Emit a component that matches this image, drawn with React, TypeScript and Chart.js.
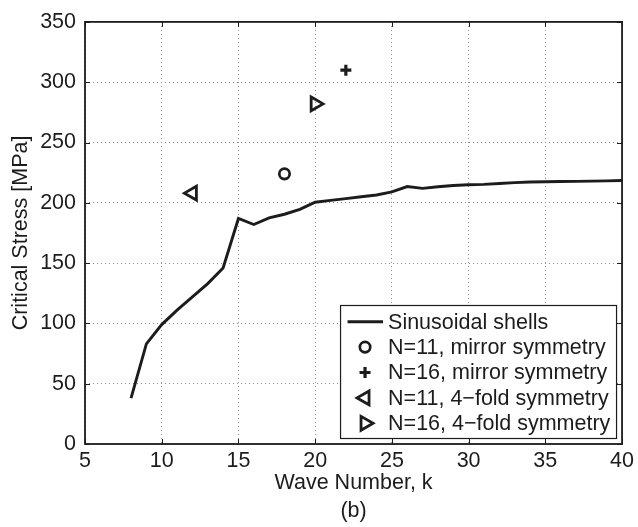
import { useEffect, useRef } from "react";
import { Chart, registerables } from "chart.js";

Chart.register(...registerables);

// ---- data ----
const waveNumbers = [8, 9, 10, 11, 12, 13, 14, 15, 16, 17, 18, 19, 20, 21, 22, 23, 24, 25, 26, 27, 28, 29, 30, 31, 32, 33, 34, 35, 36, 37, 38, 39, 40];
const sinusoidalStress = [38, 83, 99, 111, 122, 133, 146, 187, 182, 187.5, 190.5, 194.5, 200.5, 202, 203.5, 205, 206.5, 209, 213.5, 212, 213.3, 214.3, 215, 215.3, 216, 216.7, 217.2, 217.5, 217.7, 217.8, 218, 218.2, 218.5];

const n11MirrorK = [18];
const n11MirrorStress = [224];
const n16MirrorK = [22];
const n16MirrorStress = [310];
const n11FourFoldK = [12];
const n11FourFoldStress = [208];
const n16FourFoldK = [20];
const n16FourFoldStress = [282];

const xTickMin = 5;
const xTickMax = 40;
const xTickStep = 5;
const yTickMin = 0;
const yTickMax = 350;
const yTickStep = 50;

const seriesLabels = [
  "Sinusoidal shells",
  "N=11, mirror symmetry",
  "N=16, mirror symmetry",
  "N=11, 4\u2212fold symmetry",
  "N=16, 4\u2212fold symmetry",
];

const xTitle = ["Wave Number, k", "(b)"];
const yTitle = "Critical Stress [MPa]";

// ---- styles ----
const INK = "#1c1c1c";
const FONT_FAMILY = "'Liberation Sans', Arial, Helvetica, sans-serif";
const FONT_SIZE = 21.5;

const toPoints = (xs: number[], ys: number[]) => xs.map((x, i) => ({ x, y: ys[i] }));

function drawMarker(ctx: CanvasRenderingContext2D, style: string, x: number, y: number, r: number, rot: number) {
  ctx.beginPath();
  if (style === "circle") {
    ctx.arc(x, y, r, 0, Math.PI * 2);
  } else if (style === "cross") {
    ctx.moveTo(x - r, y);
    ctx.lineTo(x + r, y);
    ctx.moveTo(x, y - r);
    ctx.lineTo(x, y + r);
  } else if (style === "triangle") {
    let rad = (rot * Math.PI) / 180;
    ctx.moveTo(x + Math.sin(rad) * r, y - Math.cos(rad) * r);
    rad += (2 * Math.PI) / 3;
    ctx.lineTo(x + Math.sin(rad) * r, y - Math.cos(rad) * r);
    rad += (2 * Math.PI) / 3;
    ctx.lineTo(x + Math.sin(rad) * r, y - Math.cos(rad) * r);
    ctx.closePath();
  }
  ctx.stroke();
}

const framePlugin = {
  id: "matlabFrame",
  afterDraw(chart: any) {
    const { ctx, chartArea: a, scales } = chart;
    ctx.save();
    // inward tick marks
    ctx.strokeStyle = INK;
    ctx.lineWidth = 1;
    const tl = 5;
    scales.x.ticks.forEach((t: any) => {
      const px = Math.round(scales.x.getPixelForValue(t.value)) + 0.5;
      ctx.beginPath();
      ctx.moveTo(px, a.bottom);
      ctx.lineTo(px, a.bottom - tl);
      ctx.moveTo(px, a.top);
      ctx.lineTo(px, a.top + tl);
      ctx.stroke();
    });
    scales.y.ticks.forEach((t: any) => {
      const py = Math.round(scales.y.getPixelForValue(t.value)) + 0.5;
      ctx.beginPath();
      ctx.moveTo(a.left, py);
      ctx.lineTo(a.left + tl, py);
      ctx.moveTo(a.right, py);
      ctx.lineTo(a.right - tl, py);
      ctx.stroke();
    });
    // box
    ctx.lineWidth = 1.8;
    ctx.strokeRect(a.left, a.top, a.right - a.left, a.bottom - a.top);

    // legend
    const datasets = chart.data.datasets;
    const boxW = 276;
    const boxH = 133;
    const bx = a.right - 6 - boxW;
    const by = a.bottom - 6 - boxH;
    ctx.fillStyle = "#ffffff";
    ctx.fillRect(bx, by, boxW, boxH);
    ctx.lineWidth = 1.2;
    ctx.strokeStyle = INK;
    ctx.strokeRect(bx + 0.5, by + 0.5, boxW, boxH);
    const rowH = 25.4;
    const symX = bx + 25;
    const textX = bx + 48;
    ctx.font = `${FONT_SIZE}px ${FONT_FAMILY}`;
    ctx.textBaseline = "middle";
    ctx.textAlign = "left";
    datasets.forEach((ds: any, i: number) => {
      const cy = by + 16.7 + i * rowH;
      ctx.strokeStyle = INK;
      if (ds.showLine) {
        ctx.lineWidth = ds.borderWidth;
        ctx.beginPath();
        ctx.moveTo(bx + 7.5, cy);
        ctx.lineTo(bx + 43, cy);
        ctx.stroke();
      } else {
        ctx.lineWidth = ds.pointBorderWidth;
        drawMarker(ctx, ds.pointStyle, symX, cy, ds.pointRadius, ds.pointRotation || 0);
      }
      ctx.fillStyle = INK;
      ctx.fillText(ds.label, textX, cy + 1);
    });
    ctx.restore();
  },
};

export default function App() {
  const canvasRef = useRef<HTMLCanvasElement | null>(null);

  useEffect(() => {
    document.body.style.margin = "0";
    const canvas = canvasRef.current;
    if (!canvas) return;

    const markerBase = {
      showLine: false,
      pointBorderColor: INK,
      pointBackgroundColor: "rgba(0,0,0,0)",
      borderColor: INK,
      backgroundColor: "rgba(0,0,0,0)",
    };

    const chart = new Chart(canvas, {
      type: "scatter",
      data: {
        datasets: [
          {
            label: seriesLabels[0],
            data: toPoints(waveNumbers, sinusoidalStress),
            showLine: true,
            borderColor: INK,
            borderWidth: 2.9,
            pointRadius: 0,
            tension: 0,
            fill: false,
          },
          {
            ...markerBase,
            label: seriesLabels[1],
            data: toPoints(n11MirrorK, n11MirrorStress),
            pointStyle: "circle",
            pointRadius: 5.2,
            pointBorderWidth: 2.7,
            borderWidth: 2.7,
          },
          {
            ...markerBase,
            label: seriesLabels[2],
            data: toPoints(n16MirrorK, n16MirrorStress),
            pointStyle: "cross",
            pointRadius: 5.5,
            pointBorderWidth: 3.2,
            borderWidth: 3.2,
          },
          {
            ...markerBase,
            label: seriesLabels[3],
            data: toPoints(n11FourFoldK, n11FourFoldStress),
            pointStyle: "triangle",
            pointRotation: -90,
            pointRadius: 8,
            pointBorderWidth: 2.8,
            borderWidth: 2.8,
          },
          {
            ...markerBase,
            label: seriesLabels[4],
            data: toPoints(n16FourFoldK, n16FourFoldStress),
            pointStyle: "triangle",
            pointRotation: 90,
            pointRadius: 8,
            pointBorderWidth: 2.8,
            borderWidth: 2.8,
          },
        ] as any,
      },
      options: {
        animation: false,
        responsive: true,
        maintainAspectRatio: false,
        layout: { padding: { top: 19, right: 13, bottom: 0, left: 0 } },
        plugins: {
          legend: { display: false },
          tooltip: { enabled: false },
        },
        scales: {
          x: {
            type: "linear",
            min: xTickMin,
            max: xTickMax,
            afterFit: (scale: any) => {
              scale.height = 83;
            },
            ticks: {
              stepSize: xTickStep,
              color: INK,
              padding: 4,
              font: { family: FONT_FAMILY, size: FONT_SIZE },
              maxRotation: 0,
            },
            grid: {
              color: "#8a8a8a",
              lineWidth: 1,
              drawTicks: false,
            },
            border: { display: false, dash: [1, 3] },
            title: {
              display: true,
              text: xTitle,
              color: INK,
              padding: { top: 0, bottom: 1.5 },
              font: { family: FONT_FAMILY, size: FONT_SIZE, lineHeight: "28px" },
            },
          },
          y: {
            type: "linear",
            min: yTickMin,
            max: yTickMax,
            afterFit: (scale: any) => {
              scale.width = 85;
            },
            ticks: {
              stepSize: yTickStep,
              color: INK,
              padding: 9,
              font: { family: FONT_FAMILY, size: FONT_SIZE },
            },
            grid: {
              color: "#8a8a8a",
              lineWidth: 1,
              drawTicks: false,
            },
            border: { display: false, dash: [1, 3] },
            title: {
              display: true,
              text: yTitle,
              color: INK,
              padding: { top: 8, bottom: 0 },
              font: { family: FONT_FAMILY, size: FONT_SIZE },
            },
          },
        },
      } as any,
      plugins: [framePlugin],
    });

    return () => {
      chart.destroy();
    };
  }, []);

  return (
    <div style={{ position: "relative", width: 638, height: 527, background: "#fff" }}>
      <canvas ref={canvasRef} />
    </div>
  );
}
